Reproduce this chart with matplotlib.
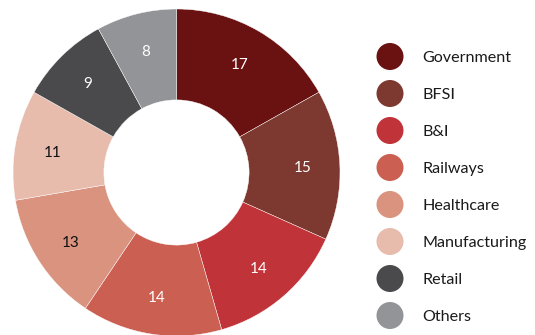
import matplotlib.pyplot as plt
from matplotlib.patches import Circle

plt.rcParams['font.family'] = ['Lato', 'DejaVu Sans']

sectors = ['Government', 'BFSI', 'B&I', 'Railways', 'Healthcare',
           'Manufacturing', 'Retail', 'Others']
shares = [17, 15, 14, 14, 13, 11, 9, 8]
colors = ['#6a1212', '#7d3830', '#c03338', '#cb6052', '#d9937f',
          '#e8bcad', '#4a4a4c', '#939497']
label_colors = ['white', 'white', 'white', 'white', '#111111',
                '#111111', 'white', 'white']

W, H = 535, 335
fig = plt.figure(figsize=(W / 100, H / 100), dpi=100)

# donut: centre (176.5, 172.5) px, outer radius 163.5 px
cx, cy, r = 176.5, 172.5, 163.5
ax = fig.add_axes([(cx - r) / W, (H - cy - r) / H, 2 * r / W, 2 * r / H])
wedges, texts = ax.pie(shares, colors=colors, startangle=90, counterclock=False,
                       radius=1, labels=[str(v) for v in shares],
                       labeldistance=0.77,
                       wedgeprops=dict(width=0.556, edgecolor='white', linewidth=0.3))
for t, c in zip(texts, label_colors):
    t.set_color(c)
    t.set_fontsize(11)
    t.set_ha('center')
    t.set_va('center_baseline')
ax.set_xlim(-1, 1)
ax.set_ylim(-1, 1)
ax.set_aspect('equal')
ax.axis('off')

# legend drawn in pixel coordinates
lg = fig.add_axes([0, 0, 1, 1])
lg.set_xlim(0, W)
lg.set_ylim(H, 0)
lg.axis('off')
for i, (name, col) in enumerate(zip(sectors, colors)):
    y = 56.5 + i * 37
    lg.add_patch(Circle((390, y), 13.5, color=col, lw=0))
    lg.text(422, y, name, fontsize=11.6, va='center_baseline', ha='left',
            color='#1a1a1a')

fig.savefig('out.png', dpi=100)
